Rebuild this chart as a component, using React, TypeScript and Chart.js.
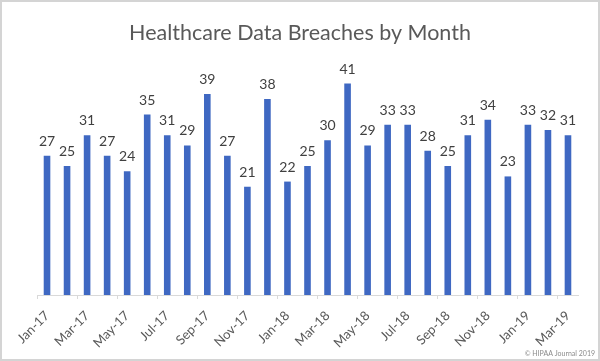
import React, { useEffect, useRef } from "react";
import { Chart, registerables } from "chart.js";

Chart.register(...registerables);

const months = [
  "Jan-17", "Feb-17", "Mar-17", "Apr-17", "May-17", "Jun-17", "Jul-17", "Aug-17", "Sep-17",
  "Oct-17", "Nov-17", "Dec-17", "Jan-18", "Feb-18", "Mar-18", "Apr-18", "May-18", "Jun-18",
  "Jul-18", "Aug-18", "Sep-18", "Oct-18", "Nov-18", "Dec-18", "Jan-19", "Feb-19", "Mar-19",
];
const breaches = [
  27, 25, 31, 27, 24, 35, 31, 29, 39, 27, 21, 38, 22, 25, 30, 41, 29, 33, 33, 28, 25, 31, 34, 23, 33, 32, 31,
];
const titleText = "Healthcare Data Breaches by Month";
const creditText = "© HIPAA Journal 2019";

const FONT = "Lato, 'Open Sans', sans-serif";

const decorPlugin = {
  id: "decor",
  afterDatasetsDraw(chart: any) {
    const ctx = chart.ctx;
    const meta = chart.getDatasetMeta(0);
    ctx.save();
    ctx.fillStyle = "#404040";
    ctx.font = `14px ${FONT}`;
    ctx.textAlign = "center";
    ctx.textBaseline = "alphabetic";
    meta.data.forEach((bar: any, i: number) => {
      ctx.fillText(String(breaches[i]), bar.x, bar.y - 10);
    });
    ctx.restore();
  },
  afterDraw(chart: any) {
    const ctx = chart.ctx;
    ctx.save();
    ctx.fillStyle = "#595959";
    ctx.font = `21.5px ${FONT}`;
    ctx.textAlign = "center";
    ctx.textBaseline = "alphabetic";
    ctx.fillText(titleText, chart.width / 2, 40);
    ctx.fillStyle = "#8c8c8c";
    ctx.font = `7px ${FONT}`;
    ctx.textAlign = "right";
    ctx.fillText(creditText, 595, 356);
    ctx.strokeStyle = "#d4d4d4";
    ctx.lineWidth = 2;
    ctx.strokeRect(1, 1, chart.width - 2, chart.height - 2);
    ctx.restore();
  },
};

export default function App() {
  const ref = useRef<HTMLCanvasElement>(null);
  useEffect(() => {
    document.body.style.margin = "0";
    const chart = new Chart(ref.current!, {
      type: "bar",
      data: {
        labels: months,
        datasets: [
          {
            data: breaches,
            backgroundColor: "#3F68C2",
            barPercentage: 0.33,
            categoryPercentage: 1,
          },
        ],
      },
      options: {
        animation: false,
        responsive: false,
        layout: { padding: { left: 37, right: 22, top: 63, bottom: 0 } },
        plugins: {
          legend: { display: false },
          tooltip: { enabled: false },
          title: { display: false },
        },
        scales: {
          x: {
            border: { color: "#d9d9d9", width: 1 },
            grid: {
              drawOnChartArea: false,
              tickLength: 4,
              color: (c: any) => (c.index % 2 === 0 ? "#d9d9d9" : "rgba(0,0,0,0)"),
            },
            ticks: {
              autoSkip: false,
              minRotation: 45,
              maxRotation: 45,
              color: "#595959",
              font: { family: FONT, size: 13 },
              padding: 9,
              callback: (_v: any, i: number) => (i % 2 === 0 ? months[i] : ""),
            },
            afterFit: (s: any) => {
              s.height = 66;
            },
          },
          y: {
            display: false,
            min: 0,
            max: 45,
          },
        },
      },
      plugins: [decorPlugin],
    });
    return () => chart.destroy();
  }, []);
  return (
    <div style={{ width: 600, height: 361, background: "#fff" }}>
      <canvas ref={ref} width={600} height={361} />
    </div>
  );
}
